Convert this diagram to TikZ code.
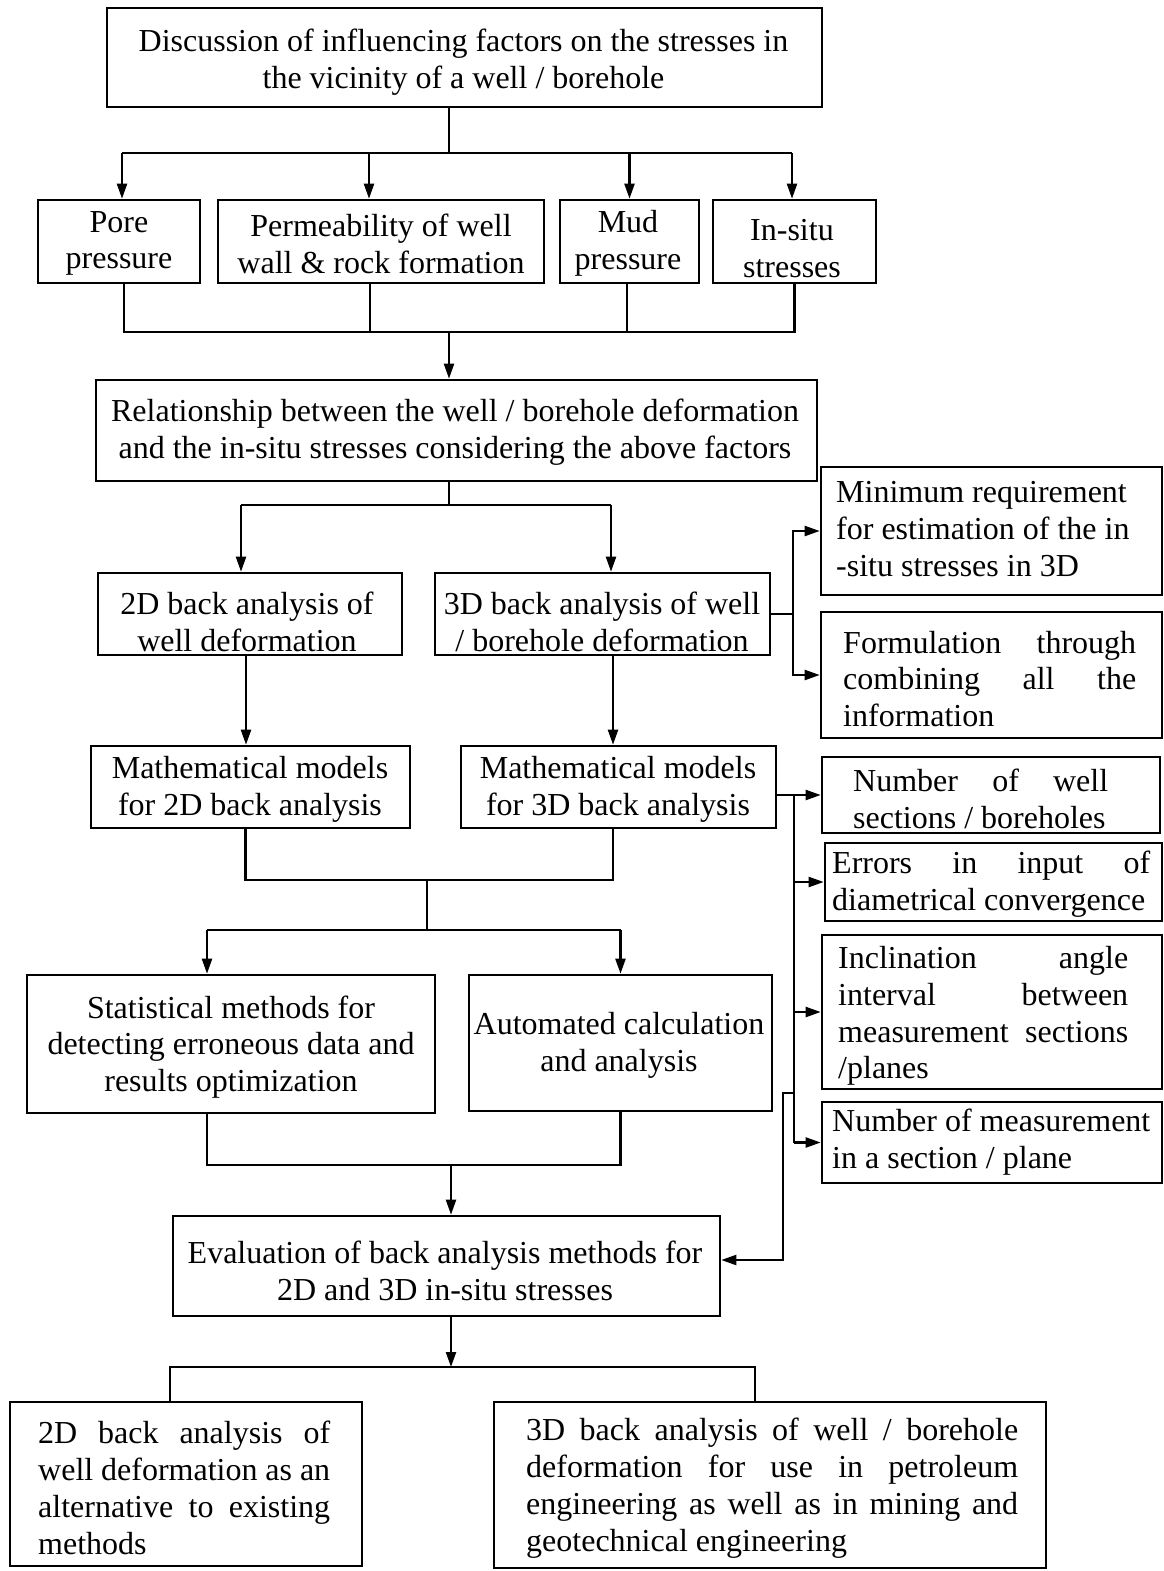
\documentclass[tikz,border=0pt]{standalone}
\usepackage{fontspec}
\setmainfont{Liberation Serif}
\usetikzlibrary{arrows.meta}
\newcommand\jl[2]{\makebox[#1pt][s]{#2}}
\newcommand\bx[5]{\node[box, minimum width=#4pt, minimum height=#5pt] (#1) at (#2,#3) {};}
\begin{document}
\begin{tikzpicture}[x=1pt,y=-1pt,
  box/.style={draw, line width=2.6pt, inner sep=0pt},
  txt/.style={inner sep=0pt, font=\fontsize{32}{36.8}\selectfont, align=center, yshift=-4pt},
  ltxt/.style={txt, align=left, anchor=west},
  link/.style={line width=2.2pt},
  arr/.style={link, -{Triangle[length=15pt,width=10pt]}}]
\useasboundingbox (0,0) rectangle (1164,1571);

% ---- boxes ----
\bx{top}{464.5}{57.5}{715}{99}
\bx{pore}{119}{241.5}{162}{83}
\bx{perm}{381}{241.5}{326}{83}
\bx{mud}{629.5}{241.5}{139}{83}
\bx{insitu}{794.5}{241.5}{163}{83}
\bx{rel}{456.5}{430.5}{721}{101}
\bx{b2d}{250}{614}{304}{82}
\bx{b3d}{602.5}{614}{335}{82}
\bx{minreq}{991.5}{531}{341}{128}
\bx{formul}{991.5}{675}{341}{126}
\bx{m2d}{250.5}{787}{319}{82}
\bx{m3d}{618.5}{787}{315}{82}
\bx{nwell}{991}{795}{338}{76}
\bx{errors}{993.5}{882}{337}{78}
\bx{incl}{992}{1012}{340}{154}
\bx{nmeas}{992}{1142.5}{340}{81}
\bx{stat}{231}{1044}{408}{138}
\bx{auto}{620.5}{1043}{303}{136}
\bx{eval}{446.5}{1266}{547}{100}
\bx{bl}{186}{1484}{352}{164}
\bx{br}{770}{1485}{552}{166}

% ---- texts ----
\node[txt] (top-t) at (463.5,58) {Discussion of influencing factors on the stresses in\\the vicinity of a well / borehole};
\node[txt] (pore-t) at (119,239.5) {Pore\\pressure};
\node[txt] (perm-t) at (381,239.5) {Permeability of well\\wall \& rock formation};
\node[txt] (mud-t) at (628,239.5) {Mud\\pressure};
\node[txt] (insitu-t) at (792,244.5) {In-situ\\stresses};
\node[txt] (rel-t) at (455,428) {Relationship between the well / borehole deformation\\and the in-situ stresses considering the above factors};
\node[txt] (b2d-t) at (247,617.5) {2D back analysis of\\well deformation};
\node[txt] (b3d-t) at (602,617.5) {3D back analysis of well\\/ borehole deformation};
\node[ltxt] (minreq-t) at (836,525) {Minimum requirement\\for estimation of the in\\-situ stresses in 3D};
\node[ltxt] (formul-t) at (843,675) {\jl{293}{Formulation through}\\\jl{293}{combining all the}\\information};
\node[txt] (m2d-t) at (250,785.5) {Mathematical models\\for 2D back analysis};
\node[txt] (m3d-t) at (618,785.5) {Mathematical models\\for 3D back analysis};
\node[ltxt] (nwell-t) at (853,795) {\jl{255}{Number of well}\\sections / boreholes};
\node[ltxt] (errors-t) at (832,880.5) {\jl{318}{Errors in input of}\\diametrical convergence};
\node[ltxt] (incl-t) at (838,1012) {\jl{290}{Inclination angle}\\\jl{290}{interval between}\\\jl{290}{measurement sections}\\/planes};
\node[ltxt] (nmeas-t) at (832,1138.5) {Number of measurement\\in a section / plane};
\node[txt] (stat-t) at (231,1043) {Statistical methods for\\detecting erroneous data and\\results optimization};
\node[txt] (auto-t) at (619,1041.5) {Automated calculation\\and analysis};
\node[txt] (eval-t) at (445,1266.5) {Evaluation of back analysis methods for\\2D and 3D in-situ stresses};
\node[ltxt] (bl-t) at (38,1484) {\jl{292}{2D back analysis of}\\\jl{292}{well deformation as an}\\\jl{292}{alternative to existing}\\methods};
\node[ltxt] (br-t) at (526,1484) {\jl{492}{3D back analysis of well / borehole}\\\jl{492}{deformation for use in petroleum}\\\jl{492}{engineering as well as in mining and}\\geotechnical engineering};

% ---- junctions ----
\coordinate (j1) at (449,153);
\coordinate (j2) at (449,332);
\coordinate (j3) at (449,505);
\coordinate (j4) at (793,614);
\coordinate (j5) at (427,880);
\coordinate (j6) at (427,930);
\coordinate (j7) at (451,1165);
\coordinate (j8) at (451,1367);
\coordinate (j9) at (794,795);
\coordinate (j10) at (794,1093);

% ---- connectors ----
\draw[link] (top.south -| j1) -- (j1);
\draw[link] ([xshift=3pt]pore.north |- j1) -- ([xshift=-2.5pt]insitu.north |- j1);
\draw[arr] ([xshift=3pt]pore.north |- j1) -- ([xshift=3pt]pore.north);
\draw[arr] ([xshift=-12pt]perm.north |- j1) -- ([xshift=-12pt]perm.north);
\draw[arr] (mud.north |- j1) -- (mud.north);
\draw[arr] ([xshift=-2.5pt]insitu.north |- j1) -- ([xshift=-2.5pt]insitu.north);

\draw[link] ([xshift=5pt]pore.south) |- (insitu.south |- j2) -- (insitu.south);
\draw[link] ([xshift=-11pt]perm.south) -- ([xshift=-11pt]perm.south |- j2);
\draw[link] ([xshift=-2.5pt]mud.south) -- ([xshift=-2.5pt]mud.south |- j2);
\draw[arr] (j2) -- (j2 |- rel.north);

\draw[link] (rel.south -| j3) -- (j3);
\draw[link] ([xshift=-9pt]b2d.north |- j3) -- ([xshift=8.5pt]b3d.north |- j3);
\draw[arr] ([xshift=-9pt]b2d.north |- j3) -- ([xshift=-9pt]b2d.north);
\draw[arr] ([xshift=8.5pt]b3d.north |- j3) -- ([xshift=8.5pt]b3d.north);

\draw[link] (b3d.east) -- (j4);
\draw[arr] (j4) |- (minreq.west);
\draw[arr] (j4) |- (formul.west);

\draw[arr] ([xshift=-4pt]b2d.south) -- ([xshift=-4pt]b2d.south |- m2d.north);
\draw[arr] ([xshift=10.5pt]b3d.south) -- ([xshift=10.5pt]b3d.south |- m3d.north);

\draw[link] ([xshift=-5pt]m2d.south) |- ([xshift=-5.5pt]m3d.south |- j5) -- ([xshift=-5.5pt]m3d.south);
\draw[link] (j5) -- (j6);
\draw[link] ([xshift=-24pt]stat.north |- j6) -- (auto.north |- j6);
\draw[arr] ([xshift=-24pt]stat.north |- j6) -- ([xshift=-24pt]stat.north);
\draw[arr] (auto.north |- j6) -- (auto.north);

\draw[link] ([xshift=-24pt]stat.south) |- (auto.south |- j7) -- (auto.south);
\draw[arr] (j7) -- (j7 |- eval.north);

\draw[arr] (eval.south -| j8) -- (j8);
\draw[link] ([xshift=-16pt]bl.north) |- ([xshift=-15pt]br.north |- j8) -- ([xshift=-15pt]br.north);

\draw[arr] (m3d.east |- nwell.west) -- (nwell.west);
\draw[link] (j9) -- (j9 |- nmeas.west);
\draw[arr] (j9 |- errors.west) -- (errors.west);
\draw[arr] (j9 |- incl.west) -- (incl.west);
\draw[arr] (j9 |- nmeas.west) -- (nmeas.west);
\draw[arr] (j10) -- ++(-11,0) |- ([yshift=6pt]eval.east);
\end{tikzpicture}
\end{document}
